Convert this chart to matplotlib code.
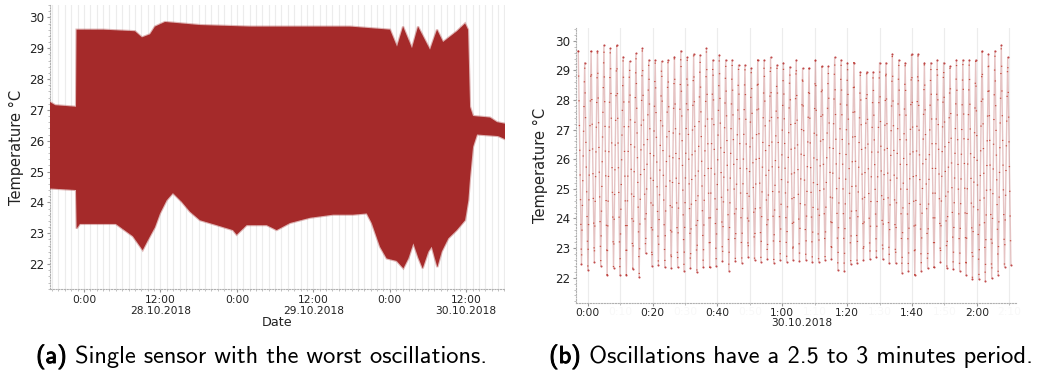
import numpy as np
import matplotlib
matplotlib.use("Agg")
import matplotlib.pyplot as plt
import matplotlib.dates as mdates
import matplotlib.ticker as mticker
import matplotlib.patheffects as pe
from matplotlib.colors import to_rgba
from matplotlib.offsetbox import TextArea, HPacker, AnnotationBbox
import pandas as pd

# ---------------- panel (a): envelope of the oscillating sensor ----------------
upper_times = ["2018-10-27 18:40", "2018-10-27 19:30", "2018-10-27 22:45", "2018-10-27 22:50",
               "2018-10-28 03:00", "2018-10-28 08:00", "2018-10-28 09:06", "2018-10-28 10:22",
               "2018-10-28 11:09", "2018-10-28 12:43", "2018-10-28 18:13", "2018-10-29 02:04",
               "2018-10-29 09:54", "2018-10-29 17:46", "2018-10-30 00:02", "2018-10-30 01:08",
               "2018-10-30 02:05", "2018-10-30 03:29", "2018-10-30 04:26", "2018-10-30 06:19",
               "2018-10-30 07:25", "2018-10-30 08:22", "2018-10-30 10:33", "2018-10-30 11:49",
               "2018-10-30 12:17", "2018-10-30 12:36", "2018-10-30 13:04", "2018-10-30 15:44",
               "2018-10-30 16:50", "2018-10-30 18:05"]
upper_vals = [27.25, 27.15, 27.1, 29.6,
              29.6, 29.55, 29.35, 29.45,
              29.7, 29.85, 29.75, 29.7,
              29.7, 29.7, 29.6, 29.05,
              29.7, 29.0, 29.7, 28.95,
              29.6, 29.2, 29.55, 29.8,
              29.6, 27.1, 26.8, 26.75,
              26.6, 26.55]

lower_times = ["2018-10-27 18:40", "2018-10-27 22:45", "2018-10-27 22:51", "2018-10-27 23:22",
               "2018-10-28 05:00", "2018-10-28 07:41", "2018-10-28 09:13", "2018-10-28 10:03",
               "2018-10-28 11:09", "2018-10-28 11:56", "2018-10-28 12:59", "2018-10-28 13:58",
               "2018-10-28 15:20", "2018-10-28 16:38", "2018-10-28 18:13", "2018-10-28 20:50",
               "2018-10-28 23:23", "2018-10-28 23:58", "2018-10-29 01:32", "2018-10-29 04:41",
               "2018-10-29 06:15", "2018-10-29 08:20", "2018-10-29 11:29", "2018-10-29 15:05",
               "2018-10-29 18:14", "2018-10-29 20:23", "2018-10-29 21:10", "2018-10-29 22:28",
               "2018-10-29 23:31", "2018-10-30 01:05", "2018-10-30 02:08", "2018-10-30 02:55",
               "2018-10-30 03:42", "2018-10-30 04:29", "2018-10-30 05:10", "2018-10-30 06:03",
               "2018-10-30 06:35", "2018-10-30 07:28", "2018-10-30 08:09", "2018-10-30 09:11",
               "2018-10-30 10:31", "2018-10-30 11:49", "2018-10-30 12:20", "2018-10-30 12:36",
               "2018-10-30 13:04", "2018-10-30 13:42", "2018-10-30 17:00", "2018-10-30 18:05"]
lower_vals = [24.45, 24.4, 23.15, 23.3,
              23.3, 22.9, 22.45, 22.78,
              23.2, 23.64, 24.07, 24.3,
              24.02, 23.7, 23.42, 23.26,
              23.1, 22.95, 23.26, 23.26,
              23.1, 23.33, 23.5, 23.6,
              23.6, 23.64, 23.33, 22.56,
              22.18, 22.1, 21.86, 22.18,
              22.67, 22.2, 21.86, 22.4,
              22.56, 21.9, 22.4, 22.83,
              23.1, 23.42, 24.07, 24.8,
              25.8, 26.2, 26.15, 26.05]

# ---------------- panel (b): individual oscillation peaks / troughs ----------------
b_start = "2018-10-29 23:57:06"
b_step_seconds = 59.3
peaks = [29.66, 29.26, 29.66, 29.66, 29.85, 29.74, 29.85, 29.46, 29.30, 29.57,
         29.74, 29.35, 29.35, 29.30, 29.35, 29.46, 29.66, 29.44, 29.55, 29.52,
         29.74, 29.35, 29.52, 29.35, 29.35, 29.18, 29.18, 29.07, 29.35, 29.35,
         29.44, 29.18, 29.26, 29.12, 29.35, 29.07, 29.07, 29.35, 29.14, 29.14,
         29.44, 29.35, 29.26, 29.26, 28.95, 28.95, 28.95, 29.26, 29.26, 29.55,
         29.35, 29.26, 29.55, 29.55, 29.26, 29.26, 29.35, 29.26, 29.14, 29.35,
         29.35, 29.35, 29.35, 29.66, 29.55, 29.66, 29.85, 29.44]
troughs = [22.45, 22.26, 22.54, 22.40, 22.09, 22.34, 22.09, 22.09, 22.28, 22.01,
           22.82, 22.40, 22.43, 22.35, 22.32, 22.35, 22.24, 22.32, 22.18, 22.35,
           22.35, 22.40, 22.55, 22.24, 22.57, 22.51, 22.71, 22.60, 22.54, 22.62,
           22.51, 22.60, 22.54, 22.60, 22.57, 22.60, 22.54, 22.54, 22.60, 22.62,
           22.26, 22.24, 22.46, 22.49, 22.60, 22.62, 22.69, 22.62, 22.49, 22.49,
           22.17, 22.24, 22.09, 22.24, 22.32, 22.35, 22.54, 22.32, 22.28, 22.24,
           22.09, 21.95, 21.95, 21.90, 21.98, 22.09, 22.37, 22.43]

a_major_labels = ["0:00", "12:00\n28.10.2018", "0:00", "12:00\n29.10.2018", "0:00", "12:00\n30.10.2018"]
a_major_ticks = ["2018-10-28 00:00", "2018-10-28 12:00", "2018-10-29 00:00",
                 "2018-10-29 12:00", "2018-10-30 00:00", "2018-10-30 12:00"]
caption_a = ("(a)", " Single sensor with the worst oscillations.")
caption_b = ("(b)", " Oscillations have a 2.5 to 3 minutes period.")

# ---------------- styling ----------------
RED = "#a52a2a"
TICKC = "#222222"
GRIDC = "#ececec"
SPINEC = "#b0b0b0"

fig = plt.figure(figsize=(10.44, 3.72), dpi=100)
W, H = 1044, 372


def px_axes(l, t, r, b):
    return fig.add_axes([l / W, (H - b) / H, (r - l) / W, (b - t) / H])


def style_axes(ax):
    for s in ("top", "right"):
        ax.spines[s].set_visible(False)
    for s in ("left", "bottom"):
        ax.spines[s].set_color(SPINEC)
        ax.spines[s].set_linestyle((0, (1, 1.5)))
        ax.spines[s].set_linewidth(0.8)
    ax.tick_params(which="major", length=2.5, width=0.8, color="#999999",
                   labelcolor=TICKC, pad=1.5)
    ax.tick_params(axis="x", which="major", labelsize=7.7)
    ax.tick_params(axis="y", which="major", labelsize=8.6)
    ax.tick_params(which="minor", length=1.5, width=0.6, color="#b5b5b5")
    ax.yaxis.set_major_locator(mticker.MultipleLocator(1))
    ax.yaxis.set_minor_locator(mticker.MultipleLocator(0.2))
    ax.grid(True, which="both", axis="x", color=GRIDC, linewidth=0.8)
    ax.set_axisbelow(True)


# ---- panel (a)
ax1 = px_axes(50, 5, 505, 289.3)
style_axes(ax1)
ut = pd.to_datetime(upper_times)
lt = pd.to_datetime(lower_times)
poly_x = list(ut) + list(lt[::-1])
poly_y = list(upper_vals) + list(lower_vals[::-1])
ax1.fill(poly_x, poly_y, facecolor=RED, edgecolor=to_rgba(RED, 0.35), linewidth=1.6, zorder=3)
ax1.set_xlim(pd.Timestamp("2018-10-27 18:40"), pd.Timestamp("2018-10-30 18:05"))
ax1.set_ylim(21.18, 30.40)
ax1.set_xticks(pd.to_datetime(a_major_ticks))
ax1.set_xticklabels(a_major_labels, linespacing=1.1)
ax1.xaxis.set_minor_locator(mdates.HourLocator())
ax1.set_xlabel("Date", fontsize=9.2, labelpad=0, color=TICKC)
ax1.set_ylabel("Temperature °C", fontsize=10.5, labelpad=3.5, color=TICKC)

# ---- panel (b)
ax2 = px_axes(576, 28, 1015.7, 302.7)
style_axes(ax2)
seq = []
for p, t in zip(peaks, troughs):
    seq += [p, t]
bt = pd.Timestamp(b_start) + pd.to_timedelta(np.arange(len(seq)) * b_step_seconds, unit="s")
ax2.plot(bt, seq, color=RED, alpha=0.28, linewidth=1.0, zorder=3)
ax2.plot(bt, seq, color="#c0392b", alpha=0.85, linewidth=1.0, linestyle=(0, (0.8, 17)),
         zorder=4)
ax2.plot(bt, seq, linestyle="none", marker="o", markersize=1.5, color="#b83030",
         alpha=0.85, markeredgewidth=0, zorder=5)
ax2.set_xlim(pd.Timestamp("2018-10-29 23:56:24"), pd.Timestamp("2018-10-30 02:12:00"))
ax2.set_ylim(21.155, 30.43)
ax2.xaxis.set_major_locator(mdates.MinuteLocator(byminute=[0, 20, 40]))
ax2.xaxis.set_minor_locator(mdates.MinuteLocator(byminute=[10, 30, 50]))


def hm(x, pos=None):
    d = mdates.num2date(x)
    return f"{d.hour}:{d.minute:02d}"


ax2.xaxis.set_major_formatter(mticker.FuncFormatter(hm))
ax2.xaxis.set_minor_formatter(mticker.FuncFormatter(hm))
ax2.tick_params(axis="x", which="minor", labelsize=7.7, labelcolor="#f8f8f8", pad=1.5)
ax2.set_xlabel("30.10.2018", fontsize=7.7, labelpad=0, color=TICKC)
ax2.xaxis.label.set_x(0.513)
ax2.set_ylabel("Temperature °C", fontsize=10.5, labelpad=5, color=TICKC)

# ---- captions
CAP = 17.6


def caption(parts, x, y):
    bold = TextArea(parts[0], textprops=dict(family="cmss10", size=CAP, color="black",
                                             path_effects=[pe.withStroke(linewidth=0.7, foreground="black")]))
    rest = TextArea(parts[1], textprops=dict(family="cmss10", size=CAP, color="black"))
    box = HPacker(children=[bold, rest], align="baseline", pad=0, sep=0)
    ab = AnnotationBbox(box, (x / W, (H - y) / H), xycoords="figure fraction",
                        frameon=False, box_alignment=(0.5, 0.5), pad=0)
    fig.add_artist(ab)


caption(caption_a, 261.5, 357)
caption(caption_b, 791, 357)

fig.savefig("out.png", dpi=100, facecolor="white")
